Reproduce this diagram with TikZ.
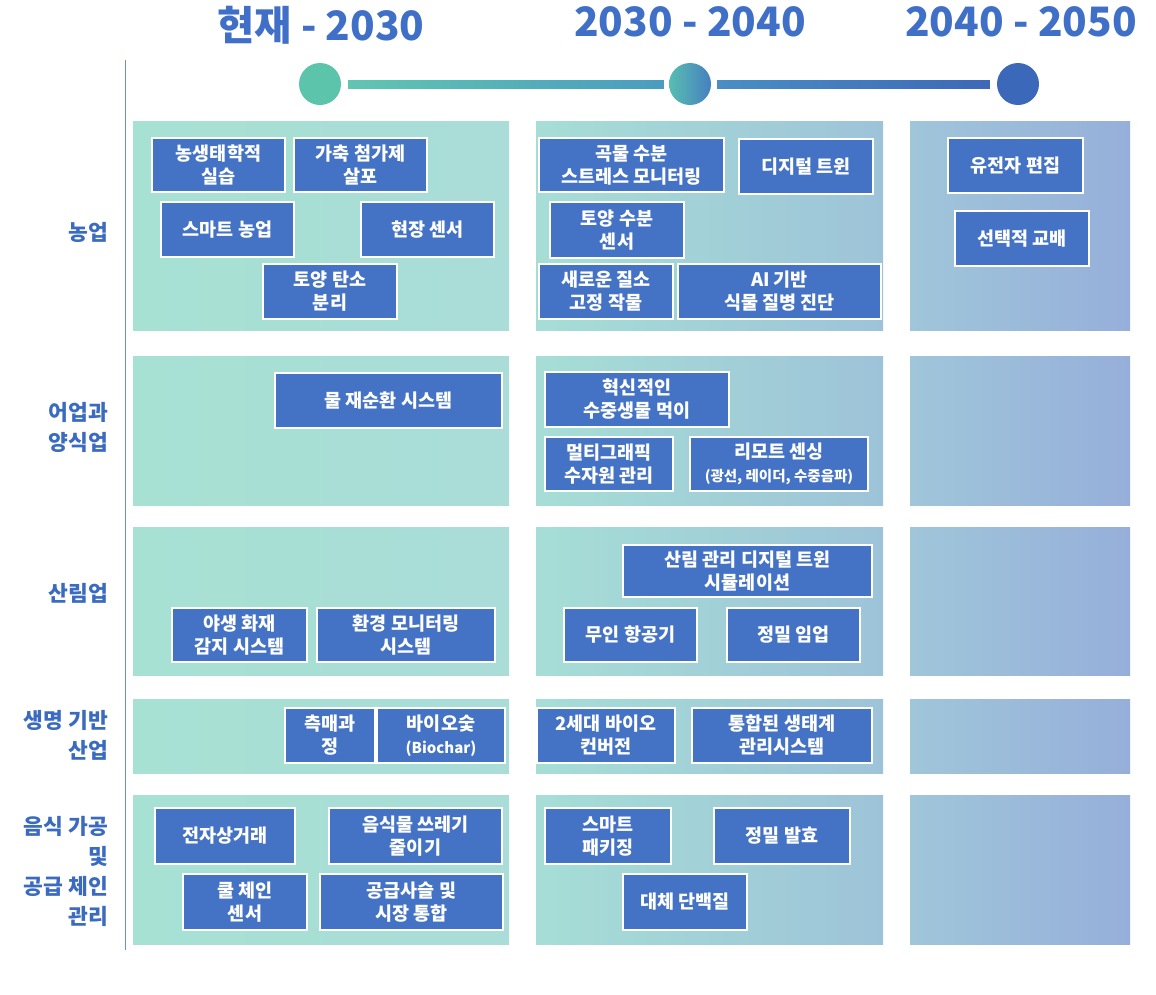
\documentclass[tikz,border=0pt]{standalone}
\usepackage{fontspec}
\setmainfont{Noto Sans CJK KR}
\usetikzlibrary{calc}
\definecolor{boxblue}{HTML}{4472C4}
\definecolor{hdrblue}{HTML}{3F6FC6}
\definecolor{lblblue}{HTML}{3A6BC0}
\definecolor{mintA}{HTML}{A7E1D3}
\definecolor{mintB}{HTML}{AADCD8}
\definecolor{midA}{HTML}{A6DED6}
\definecolor{midB}{HTML}{9DC3D8}
\definecolor{blA}{HTML}{A0C6DA}
\definecolor{blB}{HTML}{96AFDA}
\begin{document}
\begin{tikzpicture}[x=1pt,y=-1pt,
  bx/.style={draw=white, line width=2pt, fill=boxblue, text=white,
    font=\bfseries\fontsize{18.5}{23}\selectfont, align=center, inner sep=0pt},
  lbl/.style={text=lblblue, font=\bfseries\fontsize{21.5}{30}\selectfont, align=right, anchor=east, inner sep=0pt},
  hdr/.style={text=hdrblue, font=\bfseries\fontsize{40.5}{42}\selectfont, inner sep=0pt},
  dot/.style={circle, minimum size=42pt, inner sep=0pt}]
\useasboundingbox (0,0) rectangle (1156,994);
\fill[white] (0,0) rectangle (1156,994);
% headers
\node[hdr] (h1) at (321,25) {현재 - 2030};
\node[hdr] (h2) at (690,22) {2030 - 2040};
\node[hdr] (h3) at (1021,22) {2040 - 2050};
% timeline
\node[dot, fill={rgb,255:red,93;green,196;blue,172}] (t1) at (320,84) {};
\node[dot, left color={rgb,255:red,88;green,190;blue,176}, right color={rgb,255:red,70;green,128;blue,192}] (t2) at (690,84) {};
\node[dot, fill={rgb,255:red,60;green,104;blue,185}] (t3) at (1018,84) {};
\shade[left color={rgb,255:red,96;green,198;blue,176}, right color={rgb,255:red,74;green,156;blue,192}]
  ($(t1.east)+(7,-4)$) rectangle ($(t2.west)+(-5,4)$);
\shade[left color={rgb,255:red,74;green,142;blue,196}, right color={rgb,255:red,61;green,104;blue,184}]
  ($(t2.east)+(6,-4)$) rectangle ($(t3.west)+(-7,4)$);
% vertical axis
\coordinate (va) at (125,60);
\coordinate (vb) at (125,950);
\draw[line width=1pt, color={rgb,255:red,110;green,143;blue,208}] (va) -- (vb);
% panels
\foreach \ya/\yb in {121/330, 356/505, 527/675, 699/773, 795/944}{
  \shade[left color=mintA, right color=mintB] (133,\ya) rectangle (509,\yb);
  \shade[left color=midA, right color=midB] (536,\ya) rectangle (883,\yb);
  \shade[left color=blA, right color=blB] (910,\ya) rectangle (1130,\yb);
}
% row labels
\node[lbl] (l1) at (108,232) {농업};
\node[lbl] (l2) at (108,427) {어업과\\양식업};
\node[lbl] (l3) at (108,593) {산림업};
\node[lbl] (l4) at (108,735) {생명 기반\\산업};
\node[lbl] (l5) at (108,871) {음식 가공\\및\\공급 체인\\관리};
% row 1
\node[bx, minimum width=133pt, minimum height=54pt] (a1) at (218.5,165) {농생태학적\\실습};
\node[bx, minimum width=133pt, minimum height=54pt] (a2) at (360.5,165) {가축 첨가제\\살포};
\node[bx, minimum width=133pt, minimum height=55pt] (a3) at (227.5,229.5) {스마트 농업};
\node[bx, minimum width=133pt, minimum height=55pt] (a4) at (427.5,229.5) {현장 센서};
\node[bx, minimum width=134pt, minimum height=55pt] (a5) at (330,291.5) {토양 탄소\\분리};
\node[bx, minimum width=185pt, minimum height=54pt] (b1) at (631.5,165) {곡물 수분\\스트레스 모니터링};
\node[bx, minimum width=134pt, minimum height=55pt] (b2) at (806,166.5) {디지털 트윈};
\node[bx, minimum width=134pt, minimum height=56pt] (b3) at (617,230) {토양 수분\\센서};
\node[bx, minimum width=134pt, minimum height=55pt] (b4) at (606,291.5) {새로운 질소\\고정 작물};
\node[bx, minimum width=203pt, minimum height=55pt] (b5) at (779.5,291.5) {AI 기반\\식물 질병 진단};
\node[bx, minimum width=135pt, minimum height=55pt] (c1) at (1015.5,165.5) {유전자 편집};
\node[bx, minimum width=134pt, minimum height=55pt] (c2) at (1022,238.5) {선택적 교배};
% row 2
\node[bx, minimum width=227pt, minimum height=55pt] (d1) at (388.5,400.5) {물 재순환 시스템};
\node[bx, minimum width=184pt, minimum height=55pt] (e1) at (637,399.5) {혁신적인\\수중생물 먹이};
\node[bx, minimum width=128pt, minimum height=54pt] (e2) at (609,464) {멀티그래픽\\수자원 관리};
\node[bx, minimum width=178pt, minimum height=54pt] (e3) at (779,464) {리모트 센싱\\{\fontsize{14.5}{19}\selectfont (광선, 레이더, 수중음파)}};
% row 3
\node[bx, minimum width=135pt, minimum height=54pt] (f1) at (239.5,635) {야생 화재\\감지 시스템};
\node[bx, minimum width=178pt, minimum height=54pt] (f2) at (406,635) {환경 모니터링\\시스템};
\node[bx, minimum width=249pt, minimum height=52pt] (g1) at (747.5,571) {산림 관리 디지털 트윈\\시뮬레이션};
\node[bx, minimum width=133pt, minimum height=54pt] (g2) at (630.5,635) {무인 항공기};
\node[bx, minimum width=133pt, minimum height=54pt] (g3) at (793.5,635) {정밀 임업};
% row 4
\node[bx, minimum width=90pt, minimum height=55pt] (h1b) at (330,735.5) {측매과\\정};
\node[bx, minimum width=128pt, minimum height=55pt] (h2b) at (441,735.5) {바이오숯\\{\fontsize{15}{20}\selectfont (Biochar)}};
\node[bx, minimum width=138pt, minimum height=55pt] (i1) at (606,735.5) {2세대 바이오\\컨버전};
\node[bx, minimum width=180pt, minimum height=55pt] (i2) at (782,735.5) {통합된 생태계\\관리시스템};
% row 5
\node[bx, minimum width=140pt, minimum height=56pt] (j1) at (225,836) {전자상거래};
\node[bx, minimum width=173pt, minimum height=56pt] (j2) at (415.5,836) {음식물 쓰레기\\줄이기};
\node[bx, minimum width=124pt, minimum height=56pt] (j3) at (245,902) {쿨 체인\\센서};
\node[bx, minimum width=183pt, minimum height=56pt] (j4) at (411.5,902) {공급사슬 및\\시장 통합};
\node[bx, minimum width=126pt, minimum height=56pt] (k1) at (608,836) {스마트\\패키징};
\node[bx, minimum width=136pt, minimum height=56pt] (k2) at (782,836) {정밀 발효};
\node[bx, minimum width=124pt, minimum height=56pt] (k3) at (685,902) {대체 단백질};
\end{tikzpicture}
\end{document}
